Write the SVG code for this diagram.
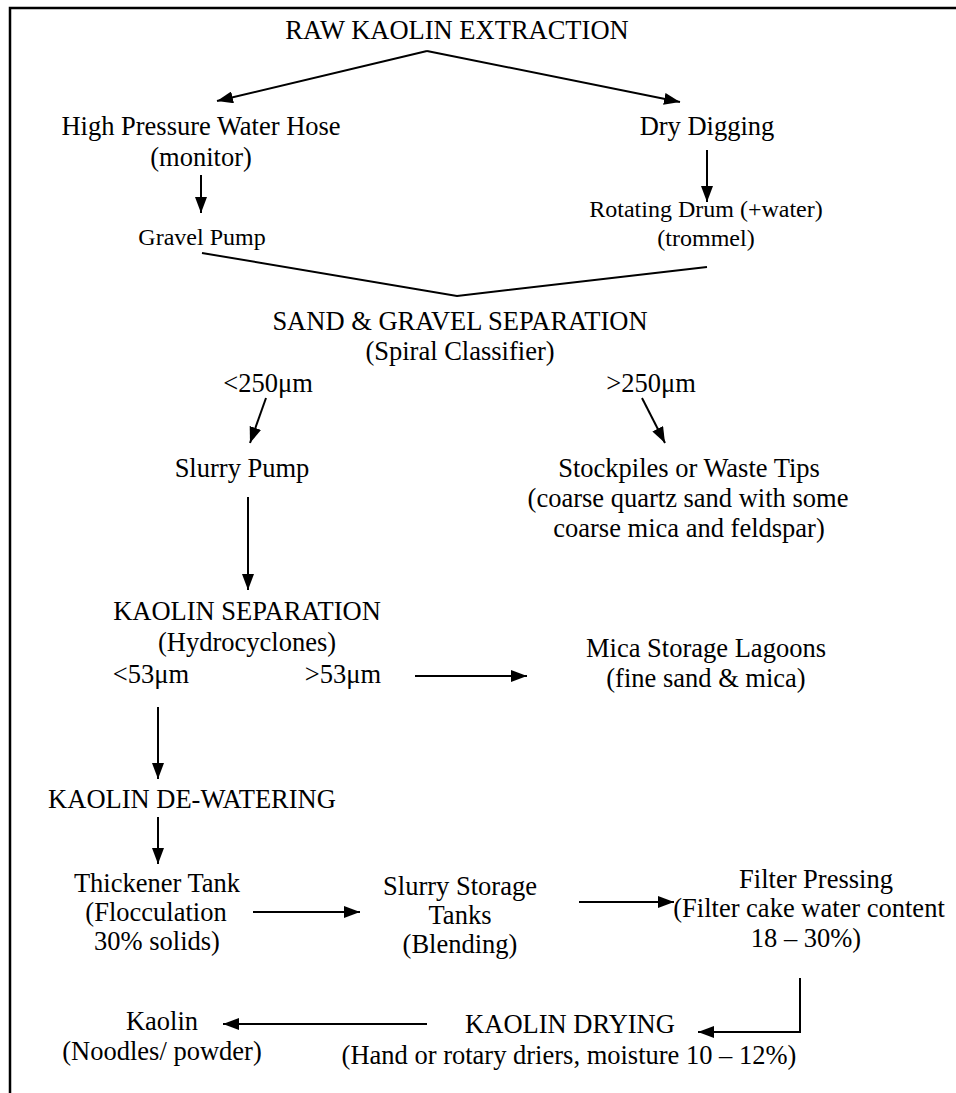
<svg xmlns="http://www.w3.org/2000/svg" width="956" height="1093" viewBox="0 0 956 1093">
<style>
text{font-family:"Liberation Serif","Times New Roman",serif;fill:#000;text-anchor:middle}
.l{font-size:26.5px}
.s{font-size:24px}
.c{stroke:#000;stroke-width:2;fill:none}
</style>
<defs>
<marker id="ah" markerUnits="userSpaceOnUse" markerWidth="16" markerHeight="12" refX="16" refY="6" orient="auto">
<path d="M0,0 L16,6 L0,12 z" fill="#000"/>
</marker>
</defs>
<rect width="956" height="1093" fill="#fff"/>
<g id="border"><path d="M10,1093 V8 H956" stroke="#000" stroke-width="2.5" fill="none"/></g>
<g id="n-raw"><text class="l" x="457" y="39">RAW KAOLIN EXTRACTION</text></g>
<g id="n-hose"><text class="l" x="201" y="135">High Pressure Water Hose</text><text class="l" x="201" y="166">(monitor)</text></g>
<g id="n-dry"><text class="l" x="707" y="135">Dry Digging</text></g>
<g id="n-gravel"><text class="s" x="202" y="245">Gravel Pump</text></g>
<g id="n-drum"><text class="s" x="706" y="217">Rotating Drum (+water)</text><text class="s" x="706" y="246">(trommel)</text></g>
<g id="n-sand"><text class="l" x="460" y="330">SAND &amp; GRAVEL SEPARATION</text><text class="l" x="460" y="360">(Spiral Classifier)</text></g>
<g id="n-lt250"><text class="l" x="268" y="392">&lt;250μm</text></g>
<g id="n-gt250"><text class="l" x="651" y="392">&gt;250μm</text></g>
<g id="n-slurrypump"><text class="l" x="242" y="477">Slurry Pump</text></g>
<g id="n-stock"><text class="l" x="689" y="477">Stockpiles or Waste Tips</text><text class="l" x="688" y="507">(coarse quartz sand with some</text><text class="l" x="689" y="537">coarse mica and feldspar)</text></g>
<g id="n-kaosep"><text class="l" x="247" y="620">KAOLIN SEPARATION</text><text class="l" x="247" y="651">(Hydrocyclones)</text></g>
<g id="n-lt53"><text class="l" x="151" y="683">&lt;53μm</text></g>
<g id="n-gt53"><text class="l" x="343" y="683">&gt;53μm</text></g>
<g id="n-mica"><text class="l" x="706" y="657">Mica Storage Lagoons</text><text class="l" x="706" y="687">(fine sand &amp; mica)</text></g>
<g id="n-dewater"><text class="l" x="192" y="808">KAOLIN DE-WATERING</text></g>
<g id="n-thick"><text class="l" x="157" y="892">Thickener Tank</text><text class="l" x="156" y="921">(Flocculation</text><text class="l" x="157" y="950">30% solids)</text></g>
<g id="n-storage"><text class="l" x="460" y="895">Slurry Storage</text><text class="l" x="460" y="924">Tanks</text><text class="l" x="460" y="953">(Blending)</text></g>
<g id="n-filter"><text class="l" x="816" y="888">Filter Pressing</text><text class="l" x="809" y="917">(Filter cake water content</text><text class="l" x="806" y="947">18 – 30%)</text></g>
<g id="n-drying"><text class="l" x="570" y="1033">KAOLIN DRYING</text><text class="l" x="569" y="1064">(Hand or rotary driers, moisture 10 – 12%)</text></g>
<g id="n-kaolin"><text class="l" x="162" y="1030">Kaolin</text><text class="l" x="162" y="1060">(Noodles/ powder)</text></g>
<g id="connectors" class="c">
<path class="c" d="M427,51 L217,101" marker-end="url(#ah)"/>
<path class="c" d="M427,51 L680,102" marker-end="url(#ah)"/>
<path class="c" d="M201,175 V213" marker-end="url(#ah)"/>
<path class="c" d="M707,150 V202" marker-end="url(#ah)"/>
<path class="c" d="M202,253 L457,296 L707,267"/>
<path class="c" d="M266,398 L250,443" marker-end="url(#ah)"/>
<path class="c" d="M642,398 L665,443" marker-end="url(#ah)"/>
<path class="c" d="M248,497 V590" marker-end="url(#ah)"/>
<path class="c" d="M415,676 H527" marker-end="url(#ah)"/>
<path class="c" d="M158,707 V779" marker-end="url(#ah)"/>
<path class="c" d="M158,817 V864" marker-end="url(#ah)"/>
<path class="c" d="M253,912 H360" marker-end="url(#ah)"/>
<path class="c" d="M579,902 H674" marker-end="url(#ah)"/>
<path class="c" d="M800,978 V1032 H698" marker-end="url(#ah)"/>
<path class="c" d="M427,1024 H223" marker-end="url(#ah)"/>
</g>
</svg>
